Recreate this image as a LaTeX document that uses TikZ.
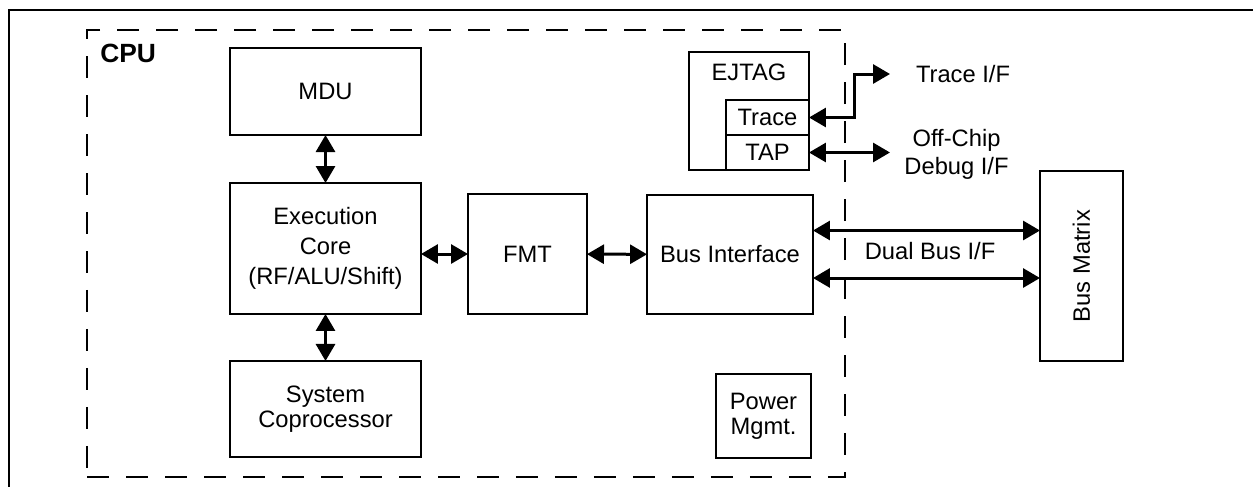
\documentclass[tikz,border=0pt]{standalone}
\usepackage{fontspec}
\setmainfont{Liberation Sans}
\usetikzlibrary{arrows.meta,positioning,calc}

\begin{document}
\begin{tikzpicture}[x=0.02cm,y=-0.02cm,
      block/.style={
        rectangle,
        draw,
        line width=0.04cm,
        outer sep=0pt,
        align=center,
        font=\fontsize{13.5}{14.2}\selectfont
      },
      dbl/.style={<->,>={Triangle[length=0.34cm,width=0.38cm]},line width=0.06cm},
      cpubox/.style={rectangle,draw,line width=0.04cm,dash pattern=on 0.44cm off 0.34cm},
      lbl/.style={align=center,font=\fontsize{13.5}{16}\selectfont}
    ]
    \useasboundingbox (0,0) rectangle (1253,487);
    % outer frame, cut off at the page edge
    \draw[line width=0.055cm] (1253,10) -- (9,10) -- (9,487);

    % CPU boundary
    \node[cpubox,minimum width=15.16cm,minimum height=8.94cm] (cpu) at (466,253.5) {};
    \node[anchor=west,inner sep=0pt,font=\fontsize{15}{17}\selectfont\bfseries] (cpulbl) at (100,53) {CPU};

    % Core blocks
    \node[block,minimum width=3.82cm,minimum height=2.62cm,font=\fontsize{13.5}{17}\selectfont] (exec) at (325.5,248.5) {Execution\\Core\\(RF/ALU/Shift)};
    \node[block,minimum width=3.82cm,minimum height=1.74cm,above=0.96cm of exec] (mdu) {MDU};
    \node[block,minimum width=3.82cm,minimum height=1.92cm,below=0.94cm of exec] (sysc) {System\\Coprocessor};
    \node[block,minimum width=2.38cm,minimum height=2.40cm] (fmt) at (527.5,254) {FMT};
    \node[block,minimum width=3.32cm,minimum height=2.38cm] (bus) at (730,254.5) {Bus Interface};
    \node[block,minimum width=1.90cm,minimum height=1.68cm] (pwr) at (763.5,416) {Power\\Mgmt.};

    % EJTAG
    \node[block,minimum width=2.40cm,minimum height=2.36cm] (ejtag) at (749,111) {};
    \node[lbl] (ejtagtxt) at ($(ejtag.north)+(0,20)$) {EJTAG};
    \node[block,minimum width=1.66cm,minimum height=0.70cm,anchor=south east] (tap) at (ejtag.south east) {TAP};
    \node[block,minimum width=1.66cm,minimum height=0.70cm,above=0pt of tap] (trace) {Trace};

    % Bus Matrix
    \node[block,rotate=90,minimum width=3.80cm,minimum height=1.66cm] (bmx) at (1081.5,266) {Bus Matrix};

    \draw[dbl] (mdu) -- (exec);
    \draw[dbl] (exec) -- (sysc);
    \draw[dbl] (exec.east |- fmt.west) -- (fmt.west);
    \draw[dbl] (fmt) -- (bus);
    \draw[dbl] ($(bus.east)+(0,-24)$) -- ($(bus.east -| bmx.north)+(0,-24)$);
    \draw[dbl] ($(bus.east)+(0,23.5)$) -- ($(bus.east -| bmx.north)+(0,23.5)$);
    \node[lbl] (duallbl) at (930,251) {Dual Bus I/F};

    % debug interfaces
    \coordinate (traceend) at (890,74);
    \coordinate (tapend) at (890,157);
    \draw[dbl] (trace.east) -- ++(45,0) |- (traceend);
    \draw[dbl] (tap.east) -- (tap.east -| tapend);
    \node[lbl] (tracelbl) at (963,74) {Trace I/F};
    \node[lbl] (offlbl) at (956.5,154) {Off-Chip\\Debug I/F};
  \end{tikzpicture}
\end{document}
